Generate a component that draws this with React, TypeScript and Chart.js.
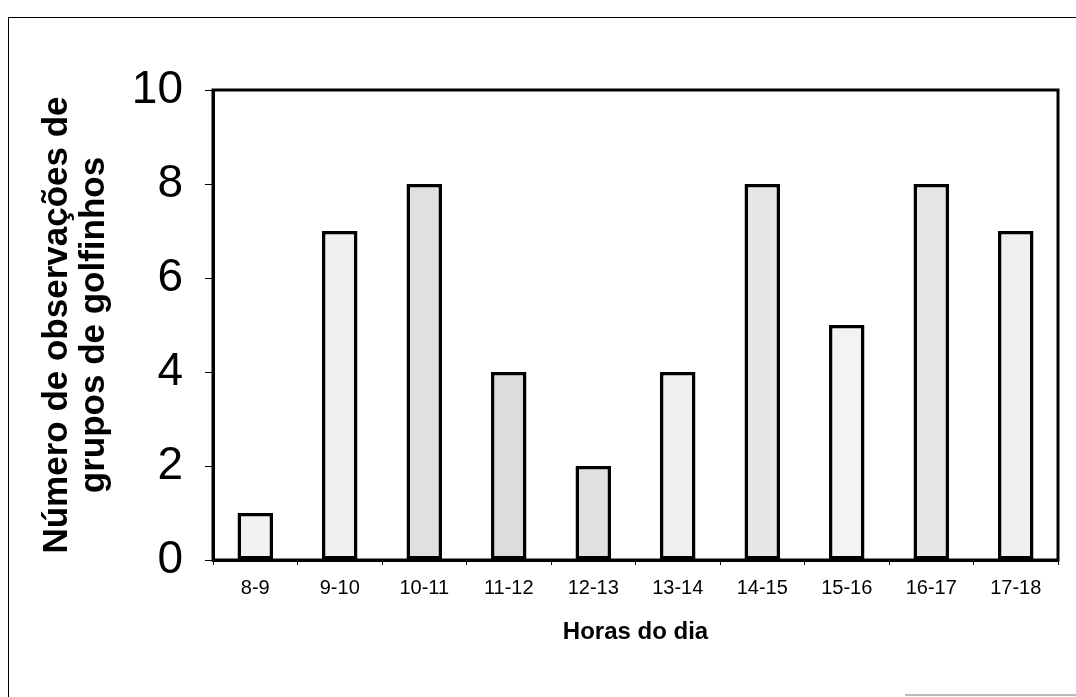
import React, { useEffect, useRef } from "react";
import { Chart, registerables } from "chart.js";

Chart.register(...registerables);

const categories = ["8-9", "9-10", "10-11", "11-12", "12-13", "13-14", "14-15", "15-16", "16-17", "17-18"];
const observations = [1, 7, 8, 4, 2, 4, 8, 5, 8, 7];
const barFills = ["#f2f2f2", "#f0f0f0", "#e0e0e0", "#dcdcdc", "#e0e0e0", "#efefef", "#e6e6e6", "#f3f3f3", "#e6e6e6", "#efefef"];
const yTitle = ["Número de observações de", "grupos de golfinhos"];
const xTitle = "Horas do dia";

const framePlugin = {
  id: "plotFrame",
  afterDraw(chart: any) {
    const { ctx, chartArea } = chart;
    ctx.save();
    ctx.strokeStyle = "#000";
    ctx.lineWidth = 3;
    ctx.strokeRect(chartArea.left, chartArea.top, chartArea.right - chartArea.left, chartArea.bottom - chartArea.top);
    ctx.restore();
  },
};

export default function App() {
  const ref = useRef<HTMLCanvasElement>(null);
  useEffect(() => {
    if (!ref.current) return;
    const chart = new Chart(ref.current, {
      type: "bar",
      data: {
        labels: categories,
        datasets: [
          {
            data: observations,
            backgroundColor: barFills,
            borderColor: "#000",
            borderWidth: 3.5,
            borderSkipped: false,
            barPercentage: 0.42,
            categoryPercentage: 1,
          },
        ],
      },
      options: {
        responsive: false,
        animation: false,
        layout: { padding: { left: 0, top: 90, right: 18, bottom: 0 } },
        plugins: { legend: { display: false }, tooltip: { enabled: false } },
        scales: {
          x: {
            afterFit: (s: any) => {
              s.height = 137;
            },
            grid: { drawOnChartArea: false, drawTicks: true, tickLength: 5, tickColor: "#000", offset: true },
            border: { color: "#000", width: 3 },
            ticks: {
              color: "#000",
              padding: 11,
              font: { family: "'Liberation Sans', Arial, sans-serif", size: 20 },
              maxRotation: 0,
              autoSkip: false,
            },
            title: {
              display: true,
              text: xTitle,
              color: "#000",
              font: { family: "'Liberation Sans', Arial, sans-serif", size: 24, weight: "bold" },
              padding: { top: 0, bottom: 50 },
            },
          },
          y: {
            min: 0,
            max: 10,
            afterFit: (s: any) => {
              s.width = 213;
            },
            grid: { drawOnChartArea: false, drawTicks: true, tickLength: 8, tickColor: "#000" },
            border: { color: "#000", width: 3 },
            ticks: {
              stepSize: 2,
              color: "#000",
              padding: 22,
              font: { family: "'Liberation Sans', Arial, sans-serif", size: 46 },
            },
            title: {
              display: true,
              text: yTitle,
              color: "#000",
              font: { family: "'Liberation Sans', Arial, sans-serif", size: 35, weight: "bold", lineHeight: 1.06 },
              padding: { top: 39, bottom: 0 },
            },
          },
        },
      },
      plugins: [framePlugin],
    });
    return () => chart.destroy();
  }, []);

  return (
    <div style={{ position: "fixed", left: 0, top: 0, width: 1076, height: 697, background: "#fff", overflow: "hidden" }}>
      <div
        style={{
          position: "absolute",
          left: 8,
          top: 17,
          width: 1080,
          height: 690,
          border: "1.5px solid #000",
          boxSizing: "border-box",
        }}
      />
      <div style={{ position: "absolute", left: 905, top: 694, width: 171, height: 2, background: "#bbb" }} />
      <canvas ref={ref} width={1076} height={697} style={{ position: "absolute", left: 0, top: 0 }} />
    </div>
  );
}
